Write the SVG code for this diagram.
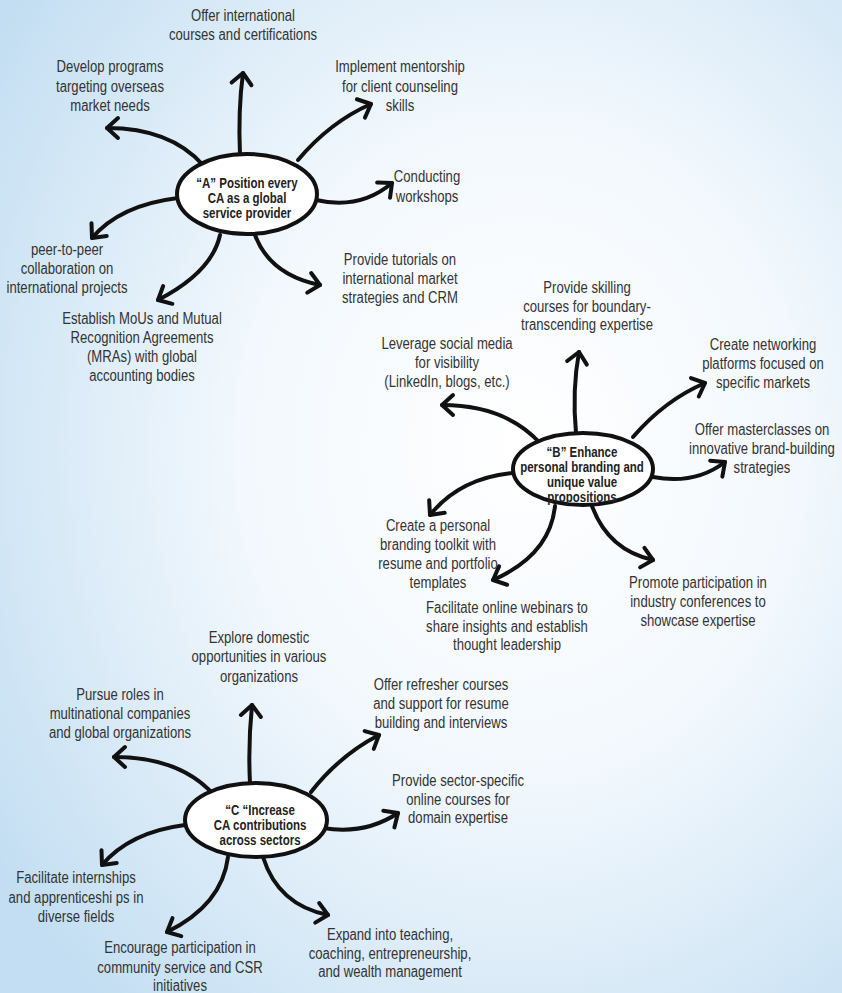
<svg xmlns="http://www.w3.org/2000/svg" width="842" height="993" viewBox="0 0 842 993">
<defs>
<radialGradient id="bg" cx="0.62" cy="0.45" r="0.75">
<stop offset="0" stop-color="#ffffff"/>
<stop offset="0.45" stop-color="#f2f8fd"/>
<stop offset="1" stop-color="#c3def2"/>
</radialGradient>
<marker id="ah" markerUnits="userSpaceOnUse" viewBox="-16 -14 20 28" markerWidth="20" markerHeight="28" refX="0" refY="0" orient="auto" overflow="visible">
<path d="M-11,-10 L0,0 L-11,10" fill="none" stroke="#111" stroke-width="4" stroke-linecap="round" stroke-linejoin="round"/>
</marker>
<style>
.lbl{font-family:"Liberation Sans",Arial,sans-serif;font-size:16px;fill:#333;text-anchor:middle}
.hub{font-family:"Liberation Sans",Arial,sans-serif;font-size:14px;font-weight:bold;fill:#222;text-anchor:middle}
.ell{fill:#ffffff;stroke:#111;stroke-width:4}
.con path{fill:none;stroke:#111;stroke-width:4;stroke-linecap:round;marker-end:url(#ah)}
</style>
</defs>
<rect width="842" height="993" fill="url(#bg)"/>
<g id="connectors" class="con">
<path d="M240,155 Q238,110 243,73"/>
<path d="M203,165 Q170,128 107,128"/>
<path d="M298,160 Q330,122 371,104"/>
<path d="M316,200 Q360,210 392,183"/>
<path d="M178,198 Q120,205 92,238"/>
<path d="M220,235 Q212,272 158,300"/>
<path d="M255,235 Q270,275 320,285"/>
<path d="M576,433 Q572,390 579,352"/>
<path d="M540,443 Q505,405 442,405"/>
<path d="M633,437 Q665,400 705,383"/>
<path d="M653,477 Q695,485 725,462"/>
<path d="M513,473 Q460,478 430,515"/>
<path d="M555,506 Q550,555 493,580"/>
<path d="M592,506 Q608,550 653,560"/>
<path d="M250,783 Q248,745 252,705"/>
<path d="M214,795 Q180,757 114,757"/>
<path d="M311,792 Q340,755 379,735"/>
<path d="M323,828 Q365,835 398,813"/>
<path d="M263,857 Q278,905 328,915"/>
<path d="M228,857 Q222,905 167,932"/>
<path d="M185,825 Q130,832 102,865"/>
</g>
<g id="nodeA">
<ellipse class="ell" cx="247" cy="194" rx="70" ry="40"/>
<text class="hub" transform="translate(247,188) scale(0.82,1)">“A” Position every</text>
<text class="hub" transform="translate(247,203) scale(0.82,1)">CA as a global</text>
<text class="hub" transform="translate(247,218) scale(0.82,1)">service provider</text>
</g>
<g id="nodeB">
<ellipse class="ell" cx="583" cy="469" rx="70" ry="36"/>
<text class="hub" transform="translate(582,457) scale(0.82,1)">“B” Enhance</text>
<text class="hub" transform="translate(582,472) scale(0.82,1)">personal branding and</text>
<text class="hub" transform="translate(582,487) scale(0.82,1)">unique value</text>
<text class="hub" transform="translate(582,502) scale(0.82,1)">propositions</text>
</g>
<g id="nodeC">
<ellipse class="ell" cx="256" cy="820" rx="71" ry="37"/>
<text class="hub" transform="translate(260,815) scale(0.82,1)">“C “Increase</text>
<text class="hub" transform="translate(260,830) scale(0.82,1)">CA contributions</text>
<text class="hub" transform="translate(260,845) scale(0.82,1)">across sectors</text>
</g>
<g id="labelsA">
<g id="a1"><text class="lbl" transform="translate(243,21) scale(0.82,1)">Offer international</text><text class="lbl" transform="translate(243,40) scale(0.82,1)">courses and certifications</text></g>
<g id="a2"><text class="lbl" transform="translate(110,72) scale(0.82,1)">Develop programs</text><text class="lbl" transform="translate(110,92) scale(0.82,1)">targeting overseas</text><text class="lbl" transform="translate(110,111) scale(0.82,1)">market needs</text></g>
<g id="a3"><text class="lbl" transform="translate(400,72) scale(0.82,1)">Implement mentorship</text><text class="lbl" transform="translate(400,92) scale(0.82,1)">for client counseling</text><text class="lbl" transform="translate(400,111) scale(0.82,1)">skills</text></g>
<g id="a4"><text class="lbl" transform="translate(427,182) scale(0.82,1)">Conducting</text><text class="lbl" transform="translate(427,202) scale(0.82,1)">workshops</text></g>
<g id="a5"><text class="lbl" transform="translate(67,255) scale(0.82,1)">peer-to-peer</text><text class="lbl" transform="translate(67,274) scale(0.82,1)">collaboration on</text><text class="lbl" transform="translate(67,293) scale(0.82,1)">international projects</text></g>
<g id="a6"><text class="lbl" transform="translate(142,324) scale(0.82,1)">Establish MoUs and Mutual</text><text class="lbl" transform="translate(142,343) scale(0.82,1)">Recognition Agreements</text><text class="lbl" transform="translate(142,362) scale(0.82,1)">(MRAs) with global</text><text class="lbl" transform="translate(142,381) scale(0.82,1)">accounting bodies</text></g>
<g id="a7"><text class="lbl" transform="translate(400,265) scale(0.82,1)">Provide tutorials on</text><text class="lbl" transform="translate(400,284) scale(0.82,1)">international market</text><text class="lbl" transform="translate(400,303) scale(0.82,1)">strategies and CRM</text></g>
</g>
<g id="labelsB">
<g id="b1"><text class="lbl" transform="translate(587,293) scale(0.82,1)">Provide skilling</text><text class="lbl" transform="translate(587,312) scale(0.82,1)">courses for boundary-</text><text class="lbl" transform="translate(587,330) scale(0.82,1)">transcending expertise</text></g>
<g id="b2"><text class="lbl" transform="translate(447,349) scale(0.82,1)">Leverage social media</text><text class="lbl" transform="translate(447,368) scale(0.82,1)">for visibility</text><text class="lbl" transform="translate(447,387) scale(0.82,1)">(LinkedIn, blogs, etc.)</text></g>
<g id="b3"><text class="lbl" transform="translate(763,350) scale(0.82,1)">Create networking</text><text class="lbl" transform="translate(763,369) scale(0.82,1)">platforms focused on</text><text class="lbl" transform="translate(763,388) scale(0.82,1)">specific markets</text></g>
<g id="b4"><text class="lbl" transform="translate(762,435) scale(0.82,1)">Offer masterclasses on</text><text class="lbl" transform="translate(762,454) scale(0.82,1)">innovative brand-building</text><text class="lbl" transform="translate(762,473) scale(0.82,1)">strategies</text></g>
<g id="b5"><text class="lbl" transform="translate(438,531) scale(0.82,1)">Create a personal</text><text class="lbl" transform="translate(438,550) scale(0.82,1)">branding toolkit with</text><text class="lbl" transform="translate(438,569) scale(0.82,1)">resume and portfolio</text><text class="lbl" transform="translate(438,588) scale(0.82,1)">templates</text></g>
<g id="b6"><text class="lbl" transform="translate(507,613) scale(0.82,1)">Facilitate online webinars to</text><text class="lbl" transform="translate(507,632) scale(0.82,1)">share insights and establish</text><text class="lbl" transform="translate(507,650) scale(0.82,1)">thought leadership</text></g>
<g id="b7"><text class="lbl" transform="translate(698,588) scale(0.82,1)">Promote participation in</text><text class="lbl" transform="translate(698,607) scale(0.82,1)">industry conferences to</text><text class="lbl" transform="translate(698,626) scale(0.82,1)">showcase expertise</text></g>
</g>
<g id="labelsC">
<g id="c1"><text class="lbl" transform="translate(259,643) scale(0.82,1)">Explore domestic</text><text class="lbl" transform="translate(259,662) scale(0.82,1)">opportunities in various</text><text class="lbl" transform="translate(259,682) scale(0.82,1)">organizations</text></g>
<g id="c2"><text class="lbl" transform="translate(120,700) scale(0.82,1)">Pursue roles in</text><text class="lbl" transform="translate(120,719) scale(0.82,1)">multinational companies</text><text class="lbl" transform="translate(120,738) scale(0.82,1)">and global organizations</text></g>
<g id="c3"><text class="lbl" transform="translate(441,690) scale(0.82,1)">Offer refresher courses</text><text class="lbl" transform="translate(441,709) scale(0.82,1)">and support for resume</text><text class="lbl" transform="translate(441,728) scale(0.82,1)">building and interviews</text></g>
<g id="c4"><text class="lbl" transform="translate(458,786) scale(0.82,1)">Provide sector-specific</text><text class="lbl" transform="translate(458,805) scale(0.82,1)">online courses for</text><text class="lbl" transform="translate(458,823) scale(0.82,1)">domain expertise</text></g>
<g id="c5"><text class="lbl" transform="translate(76,883) scale(0.82,1)">Facilitate internships</text><text class="lbl" transform="translate(76,903) scale(0.82,1)">and apprenticeshi ps in</text><text class="lbl" transform="translate(76,922) scale(0.82,1)">diverse fields</text></g>
<g id="c6"><text class="lbl" transform="translate(180,953) scale(0.82,1)">Encourage participation in</text><text class="lbl" transform="translate(180,973) scale(0.82,1)">community service and CSR</text><text class="lbl" transform="translate(180,991) scale(0.82,1)">initiatives</text></g>
<g id="c7"><text class="lbl" transform="translate(390,940) scale(0.82,1)">Expand into teaching,</text><text class="lbl" transform="translate(390,959) scale(0.82,1)">coaching, entrepreneurship,</text><text class="lbl" transform="translate(390,977) scale(0.82,1)">and wealth management</text></g>
</g>
</svg>
